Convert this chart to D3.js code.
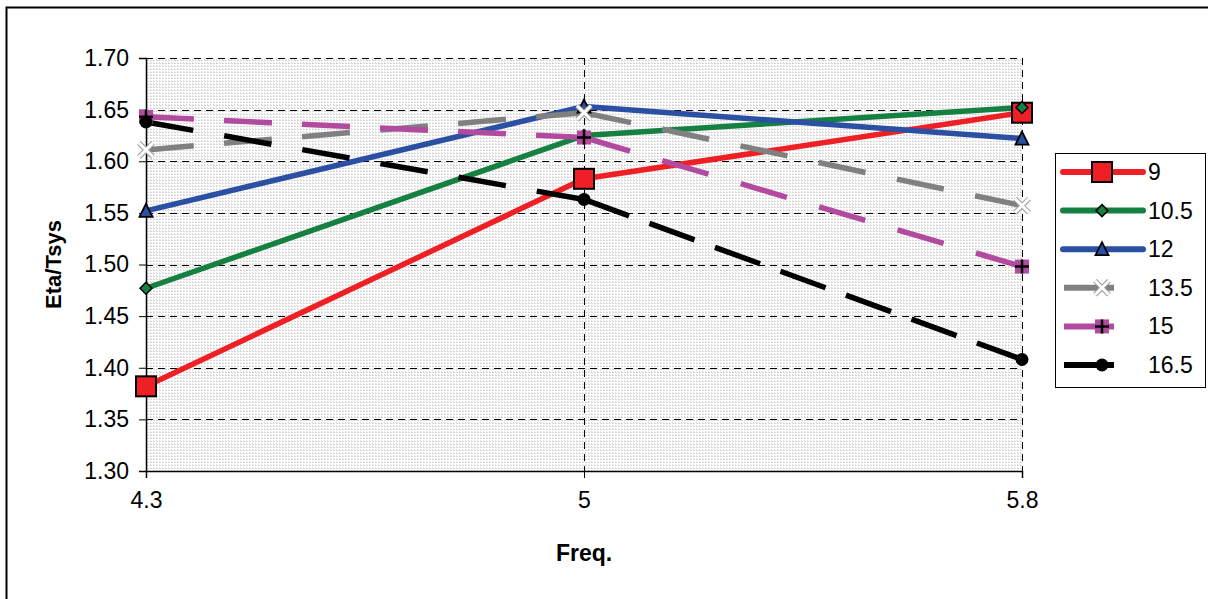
<!DOCTYPE html>
<html>
<head>
<meta charset="utf-8">
<script src="https://cdn.jsdelivr.net/npm/d3@7"></script>
<style>
  body { margin: 0; background: #fff; }
  text { font-family: Arial, "Liberation Sans", sans-serif; }
</style>
</head>
<body>
<script>
var freqs = ["4.3", "5", "5.8"];
var seriesNames = ["9", "10.5", "12", "13.5", "15", "16.5"];
var s9 = [1.382, 1.583, 1.647];
var s10_5 = [1.477, 1.625, 1.652];
var s12 = [1.552, 1.653, 1.622];
var s13_5 = [1.611, 1.647, 1.557];
var s15 = [1.643, 1.623, 1.498];
var s16_5 = [1.638, 1.563, 1.408];
var yTicks = [1.30, 1.35, 1.40, 1.45, 1.50, 1.55, 1.60, 1.65, 1.70];

var width = 1208, height = 599;
var plotLeft = 146, plotRight = 1022, plotTop = 58, plotBottom = 471;
var fontFam = "Arial, 'Liberation Sans', sans-serif";

var svg = d3.select("body").append("svg")
    .attr("width", width)
    .attr("height", height);

var defs = svg.append("defs");
var pat = defs.append("pattern")
    .attr("id", "dots")
    .attr("width", 3).attr("height", 3)
    .attr("patternUnits", "userSpaceOnUse");
pat.append("rect").attr("width", 3).attr("height", 3).attr("fill", "#fff");
pat.append("rect").attr("width", 2).attr("height", 1).attr("fill", "#d6d6d6");
pat.append("rect").attr("y", 2).attr("width", 1).attr("height", 1).attr("fill", "#e0e0e0");

// outer border
svg.append("rect")
    .attr("x", 6.5).attr("y", 7.5)
    .attr("width", 1220).attr("height", 620)
    .attr("fill", "none").attr("stroke", "#000").attr("stroke-width", 2);

var x = d3.scalePoint().domain(freqs).range([plotLeft, plotRight]);
var y = d3.scaleLinear().domain([1.30, 1.70]).range([plotBottom, plotTop]);

svg.append("rect")
    .attr("x", plotLeft).attr("y", plotTop)
    .attr("width", plotRight - plotLeft).attr("height", plotBottom - plotTop)
    .attr("fill", "url(#dots)");

// gridlines
svg.append("g").selectAll("line")
    .data(yTicks.slice(1))
    .enter().append("line")
    .attr("x1", plotLeft).attr("x2", plotRight)
    .attr("y1", function(d) { return Math.round(y(d)) + 0.5; })
    .attr("y2", function(d) { return Math.round(y(d)) + 0.5; })
    .attr("stroke", "#000").attr("stroke-width", 1)
    .attr("stroke-dasharray", "7,5");

svg.append("g").selectAll("line")
    .data(freqs.slice(1))
    .enter().append("line")
    .attr("x1", function(d) { return Math.round(x(d)) + 0.5; })
    .attr("x2", function(d) { return Math.round(x(d)) + 0.5; })
    .attr("y1", plotTop).attr("y2", plotBottom)
    .attr("stroke", "#000").attr("stroke-width", 1)
    .attr("stroke-dasharray", "7,5");

// axes
var yAxis = d3.axisLeft(y).tickValues(yTicks).tickFormat(d3.format(".2f")).tickSize(7).tickPadding(10);
var gy = svg.append("g").attr("transform", "translate(" + plotLeft + ",0)").call(yAxis);
gy.attr("font-size", 23).attr("font-family", fontFam);
gy.select(".domain").attr("stroke", "#000").attr("stroke-width", 1.5);
gy.selectAll(".tick line").attr("stroke", "#000");
gy.selectAll("text").attr("fill", "#000");

var xAxis = d3.axisBottom(x).tickSize(7).tickPadding(14);
var gx = svg.append("g").attr("transform", "translate(0," + plotBottom + ")").call(xAxis);
gx.attr("font-size", 23).attr("font-family", fontFam);
gx.select(".domain").attr("stroke", "#000").attr("stroke-width", 1.5);
gx.selectAll(".tick line").attr("stroke", "#000");
gx.selectAll("text").attr("fill", "#000");

svg.append("text")
    .attr("transform", "translate(61," + ((plotTop + plotBottom) / 2) + ") rotate(-90)")
    .attr("text-anchor", "middle")
    .attr("font-size", 22).attr("font-weight", "bold")
    .text("Eta/Tsys");

svg.append("text")
    .attr("x", x("5")).attr("y", 561)
    .attr("text-anchor", "middle")
    .attr("font-size", 23).attr("font-weight", "bold")
    .text("Freq.");

var series = [
  { name: seriesNames[0], values: s9, color: "#ee1f25", dash: false, marker: "square" },
  { name: seriesNames[1], values: s10_5, color: "#168043", dash: false, marker: "diamond" },
  { name: seriesNames[2], values: s12, color: "#2b4fa2", dash: false, marker: "triangle" },
  { name: seriesNames[3], values: s13_5, color: "#808080", dash: true, marker: "x" },
  { name: seriesNames[4], values: s15, color: "#b24a9f", dash: true, marker: "plus" },
  { name: seriesNames[5], values: s16_5, color: "#000000", dash: true, marker: "circle" }
];

var line = d3.line()
    .x(function(d) { return d[0]; })
    .y(function(d) { return d[1]; });

function drawMarker(g, s) {
  if (s.marker === "square") {
    g.append("rect").attr("x", -10).attr("y", -10).attr("width", 20).attr("height", 20)
      .attr("fill", s.color).attr("stroke", "#000").attr("stroke-width", 2);
  } else if (s.marker === "diamond") {
    g.append("path").attr("d", "M0,-6L6,0L0,6L-6,0Z")
      .attr("fill", s.color).attr("stroke", "#000").attr("stroke-width", 1.5);
  } else if (s.marker === "triangle") {
    g.append("path").attr("d", "M0,-7L6.5,6L-6.5,6Z")
      .attr("fill", s.color).attr("stroke", "#000").attr("stroke-width", 1.8);
  } else if (s.marker === "x") {
    g.append("path").attr("d", "M-7,-7L7,7M7,-7L-7,7")
      .attr("stroke", "#999").attr("stroke-width", 5);
    g.append("path").attr("d", "M-7,-7L7,7M7,-7L-7,7")
      .attr("stroke", "#fff").attr("stroke-width", 3);
  } else if (s.marker === "plus") {
    g.append("rect").attr("x", -7).attr("y", -7).attr("width", 14).attr("height", 14)
      .attr("fill", s.color);
    g.append("path").attr("d", "M-7,0L7,0M0,-7L0,7")
      .attr("stroke", "#000").attr("stroke-width", 2.5);
  } else if (s.marker === "circle") {
    g.append("circle").attr("r", 6.5).attr("fill", "#000");
  }
}

// dashed segments restart at each point so a dash meets every marker
function dashFor(len) {
  var d = 48, period = 76;
  var n = Math.max(1, Math.round((len - d) / period));
  var g = (len - d) / n - d;
  return d + "," + g;
}

var lines = svg.append("g");
series.forEach(function(s) {
  var pts = s.values.map(function(v, i) { return [x(freqs[i]), y(v)]; });
  if (!s.dash) {
    lines.append("path")
      .datum(pts)
      .attr("d", line)
      .attr("fill", "none")
      .attr("stroke", s.color)
      .attr("stroke-width", 5.5)
      .attr("stroke-linecap", "round")
      .attr("stroke-linejoin", "round");
  } else {
    for (var i = 0; i < pts.length - 1; i++) {
      var seg = [pts[i], pts[i + 1]];
      var len = Math.hypot(seg[1][0] - seg[0][0], seg[1][1] - seg[0][1]);
      lines.append("path")
        .datum(seg)
        .attr("d", line)
        .attr("fill", "none")
        .attr("stroke", s.color)
        .attr("stroke-width", 5.5)
        .attr("stroke-linecap", "butt")
        .attr("stroke-dasharray", dashFor(len));
    }
  }
});
series.forEach(function(s) {
  s.values.forEach(function(v, i) {
    var g = lines.append("g").attr("transform", "translate(" + x(freqs[i]) + "," + y(v) + ")");
    drawMarker(g, s);
  });
});

// legend
var lg = svg.append("g");
lg.append("rect")
    .attr("x", 1055.5).attr("y", 153.5).attr("width", 150).attr("height", 234)
    .attr("fill", "#fff").attr("stroke", "#000").attr("stroke-width", 1);
series.forEach(function(s, i) {
  var yy = 172 + i * 38.6;
  lg.append("line")
    .attr("x1", s.dash ? 1064 : 1063).attr("x2", s.dash ? 1114 : 1143)
    .attr("y1", yy).attr("y2", yy)
    .attr("stroke", s.color).attr("stroke-width", 6)
    .attr("stroke-linecap", s.dash ? "butt" : "round");
  var g = lg.append("g").attr("transform", "translate(1102," + yy + ")");
  drawMarker(g, s);
  lg.append("text")
    .attr("x", 1148).attr("y", yy + 8)
    .attr("font-size", 23)
    .text(s.name);
});
</script>
</body>
</html>
